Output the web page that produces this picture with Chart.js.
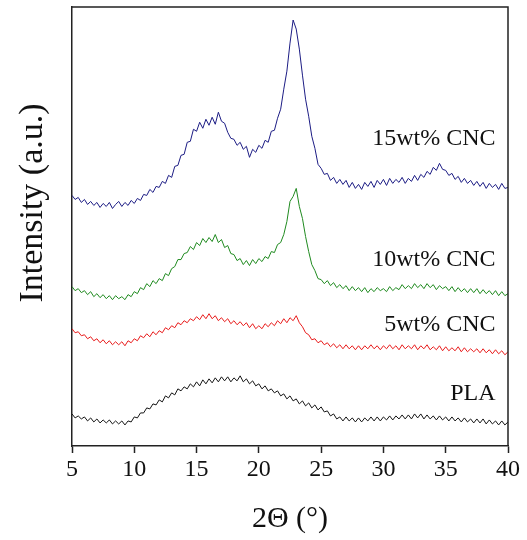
<!DOCTYPE html>
<html>
<head>
<meta charset="utf-8">
<script src="https://cdn.jsdelivr.net/npm/chart.js@4.4.1/dist/chart.umd.min.js"></script>
<style>
html,body{margin:0;padding:0;background:#fff;}
#wrap{width:527px;height:540px;}
</style>
</head>
<body>
<div id="wrap"><canvas id="c" width="527" height="540"></canvas></div>
<script>
// 2-theta angles (degrees)
const angles = [5,5.25,5.5,5.75,6,6.25,6.5,6.75,7,7.25,7.5,7.75,8,8.25,8.5,8.75,9,9.25,9.5,9.75,
10,10.25,10.5,10.75,11,11.25,11.5,11.75,12,12.25,12.5,12.75,13,13.25,13.5,13.75,14,14.25,14.5,14.75,
15,15.25,15.5,15.75,16,16.25,16.5,16.75,17,17.25,17.5,17.75,18,18.25,18.5,18.75,19,19.25,19.5,19.75,
20,20.25,20.5,20.75,21,21.25,21.5,21.75,22,22.25,22.5,22.75,23,23.25,23.5,23.75,24,24.25,24.5,24.75,
25,25.25,25.5,25.75,26,26.25,26.5,26.75,27,27.25,27.5,27.75,28,28.25,28.5,28.75,29,29.25,29.5,29.75,
30,30.25,30.5,30.75,31,31.25,31.5,31.75,32,32.25,32.5,32.75,33,33.25,33.5,33.75,34,34.25,34.5,34.75,
35,35.25,35.5,35.75,36,36.25,36.5,36.75,37,37.25,37.5,37.75,38,38.25,38.5,38.75,39,39.25,39.5,39.75,40];

// Intensity (a.u., stacked offsets as drawn)
const cnc15 = [250,246,248,243,246,241,244,240,243,238,242,239,243,237,241,244,239,243,240,245,
242,247,245,251,250,256,253,259,258,264,262,270,268,279,280,290,291,303,304,316,
314,323,317,326,320,328,321,333,324,322,313,307,306,300,303,296,299,288,296,293,
300,297,305,303,314,315,327,336,356,374,402,425,416,396,370,346,329,309,297,281,
277,271,272,265,268,262,266,261,265,258,263,257,261,256,263,259,264,258,265,261,
266,260,267,262,266,263,268,262,267,264,270,265,271,268,274,271,278,275,282,276,
275,270,272,266,269,263,267,262,265,260,264,259,263,257,262,258,261,256,262,257,258];

const cnc10 = [159,155,157,153,155,151,154,149,152,148,151,147,150,146,150,147,149,146,151,149,
154,152,158,156,162,159,165,162,167,165,172,170,177,179,186,186,192,193,199,196,
203,200,207,203,208,204,211,203,206,198,200,192,191,185,187,181,185,180,186,182,
187,184,189,187,194,193,201,203,211,224,244,249,257,239,227,209,194,181,175,167,
166,162,165,160,163,158,161,157,160,155,159,155,158,154,158,153,157,154,158,155,
157,154,159,155,158,156,161,157,160,157,162,158,161,157,162,158,161,156,160,157,
159,155,159,154,158,154,157,153,157,153,157,152,156,152,155,151,155,150,154,150,152];

const cnc5 = [117,113,114,110,111,107,109,105,107,103,106,102,105,101,104,101,104,100,105,103,
107,105,110,108,112,109,114,111,115,113,118,116,120,118,123,121,125,123,127,125,
129,126,131,127,132,127,130,125,128,124,127,122,125,121,124,120,123,118,122,117,
120,117,122,119,123,120,125,122,127,123,128,125,130,123,119,113,111,106,107,103,
105,101,103,99,102,98,101,97,101,97,100,96,100,96,100,97,101,97,100,96,
100,97,101,97,100,96,101,97,100,97,101,96,100,97,101,96,99,96,100,95,
99,95,98,95,99,94,98,94,97,94,97,93,97,93,96,92,96,92,95,91,94];

const pla = [32,28,30,27,29,25,28,24,27,23,26,23,26,22,25,22,25,21,25,24,
29,28,33,33,38,37,42,41,46,44,50,48,53,51,57,55,59,57,62,59,
64,60,66,62,67,63,68,64,69,65,69,64,68,65,70,64,67,62,65,60,
62,57,60,55,57,53,55,50,52,47,50,45,47,42,45,40,43,38,41,36,
39,34,35,30,32,27,29,25,29,25,28,24,28,24,28,25,29,25,29,25,
29,26,30,26,30,27,31,27,31,27,32,28,32,27,31,27,30,26,30,26,
29,25,29,25,28,24,28,24,27,23,27,23,27,22,26,22,25,21,25,21,24];

const seriesNames = ['15wt% CNC','10wt% CNC','5wt% CNC','PLA'];
const seriesColors = ['#1c1c84','#1f8a1f','#e81c1c','#151515'];
const xTicks = [5,10,15,20,25,30,35,40];
// label anchor (angle of right edge, intensity of centre)
const labelX = [39,39,39,39];
const labelY = [307,186,121,52];
const yTitle = 'Intensity (a.u.)';

const serif = "'Liberation Serif','Times New Roman',serif";
const seriesData = [cnc15, cnc10, cnc5, pla];

const datasets = seriesData.map((arr, i) => ({
  label: seriesNames[i],
  data: arr.map((v, j) => ({x: angles[j], y: v})),
  borderColor: seriesColors[i],
  borderWidth: 1,
  pointRadius: 0,
  tension: 0,
  fill: false
}));

const framePlugin = {
  id: 'frame',
  afterDatasetsDraw(chart) {
    const {ctx, chartArea: a, scales} = chart;
    ctx.save();
    ctx.strokeStyle = '#222';
    ctx.lineWidth = 1.5;
    ctx.beginPath();
    ctx.moveTo(a.left, a.top);
    ctx.lineTo(a.right, a.top);
    ctx.lineTo(a.right, a.bottom);
    ctx.stroke();
    ctx.fillStyle = '#111';
    ctx.font = "24px " + serif;
    ctx.textAlign = 'right';
    ctx.textBaseline = 'middle';
    seriesNames.forEach((n, i) => {
      ctx.fillText(n, scales.x.getPixelForValue(labelX[i]), scales.y.getPixelForValue(labelY[i]));
    });
    // y-axis title
    ctx.translate(33, 203);
    ctx.rotate(-Math.PI / 2);
    ctx.textAlign = 'center';
    ctx.font = "34px " + serif;
    ctx.fillText(yTitle, 0, 0);
    ctx.restore();
  }
};

new Chart(document.getElementById('c'), {
  type: 'line',
  data: { datasets },
  options: {
    responsive: false,
    animation: false,
    layout: { padding: { left: 0, right: 19, top: 7, bottom: 0 } },
    plugins: { legend: { display: false }, tooltip: { enabled: false } },
    scales: {
      x: {
        type: 'linear',
        min: 5, max: 40,
        afterBuildTicks(scale) { scale.ticks = xTicks.map(v => ({value: v})); },
        afterFit(scale) { scale.height = 94; },
        grid: { display: true, drawOnChartArea: false, drawTicks: true, tickLength: 7, tickColor: '#222', tickWidth: 1.5 },
        border: { display: true, color: '#222', width: 1.5 },
        ticks: { color: '#111', font: { family: serif, size: 24 }, padding: 2, maxRotation: 0 },
        title: { display: true, text: '2Θ (°)', color: '#111', font: { family: serif, size: 30 }, padding: { top: 0, bottom: 3 } }
      },
      y: {
        min: 0, max: 438,
        afterFit(scale) { scale.width = 72; },
        grid: { display: false },
        border: { display: true, color: '#222', width: 1.5 },
        ticks: { display: false },
        title: { display: false }
      }
    }
  },
  plugins: [framePlugin]
});
</script>
</body>
</html>
